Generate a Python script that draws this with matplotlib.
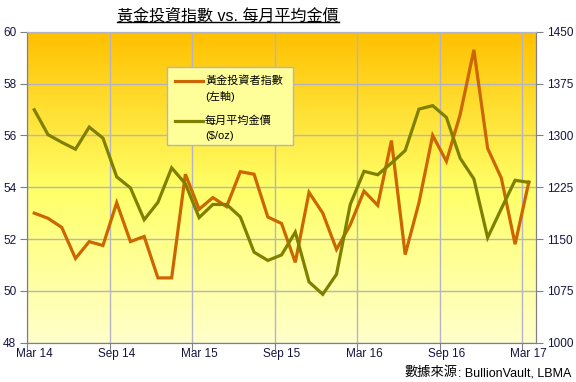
import numpy as np
import matplotlib.pyplot as plt
from matplotlib.colors import LinearSegmentedColormap
from matplotlib.lines import Line2D
from matplotlib.patches import Rectangle

# monthly data, Mar 2014 - Mar 2017
gold_index = [53.0, 52.8, 52.45, 51.25, 51.9, 51.75, 53.4, 51.9, 52.1,
              50.5, 50.5, 54.5, 53.15, 53.6, 53.25, 54.6, 54.5, 52.85, 52.6,
              51.1, 53.8, 53.0, 51.6, 52.55, 53.85, 53.3, 55.8, 51.4,
              53.4, 56.0, 55.0, 56.8, 59.3, 55.5, 54.35, 51.8, 54.2]
gold_price = [1337, 1301, 1290, 1280, 1312, 1296, 1240, 1224, 1178,
              1203, 1253, 1230, 1181, 1200, 1200, 1182, 1131, 1119, 1127,
              1160, 1088, 1070, 1099, 1200, 1248, 1243, 1260, 1278,
              1338, 1343, 1326, 1267, 1237, 1152, 1194, 1235, 1232]
tick_labels = ['Mar 14', 'Sep 14', 'Mar 15', 'Sep 15', 'Mar 16', 'Sep 16', 'Mar 17']

W, H = 576, 382
fig = plt.figure(figsize=(W / 100, H / 100), dpi=100)
fig.patch.set_facecolor('white')


def fx(px):
    return px / W


def fy(py):
    return 1 - py / H


ax = fig.add_axes([fx(27.4), fy(342.7), fx(535.7) - fx(27.4), fy(31.7) - fy(342.7)])
ax2 = ax.twinx()

x = np.arange(len(gold_index))
ax.set_xlim(-0.5, len(x) - 0.5)
ax.set_ylim(48, 60)
ax2.set_ylim(1000, 1450)

# gradient background
cmap = LinearSegmentedColormap.from_list('bg', ['#FFFFCC', '#FFFF66', '#FFC000'])
grad = np.linspace(0, 1, 256).reshape(-1, 1)
ax.imshow(grad, cmap=cmap, aspect='auto', origin='lower',
          extent=(-0.5, len(x) - 0.5, 48, 60), zorder=0)

grid_c = '#b4b4c4'
# ticks sit between categories, labels sit on the category
ax.set_xticks(np.arange(0, len(x), 6) - 0.5)
ax.set_xticklabels([])
ax.set_xticks(np.arange(0, len(x), 6), minor=True)
ax.set_xticklabels(tick_labels, minor=True)
ax.tick_params(axis='x', which='minor', length=0, pad=4)
ax.set_yticks(np.arange(48, 61, 2))
ax2.set_yticks(np.arange(1000, 1451, 75))
ax.grid(True, which='major', color=grid_c, linewidth=1, zorder=1)
ax.set_axisbelow(False)

ax.plot(x, gold_index, color='#CC6600', linewidth=2.3, zorder=3, solid_joinstyle='miter')
ax2.plot(x, gold_price, color='#808000', linewidth=2.3, zorder=3, solid_joinstyle='miter')

tick_c = '#141440'
for a in (ax, ax2):
    for s in a.spines.values():
        s.set_color('#808080')
    a.spines['top'].set_color(grid_c)
    a.tick_params(which='both', colors='#808080', labelcolor=tick_c, labelsize=8.5)
    a.tick_params(which='major', length=5)
    for lab in (a.get_xticklabels(minor=True) + a.get_yticklabels()):
        lab.set_family('Liberation Sans')
ax.tick_params(axis='y', pad=3)
ax2.tick_params(axis='y', pad=3)

fam = ['Liberation Sans', 'Noto Sans CJK TC']

# title with underline
title = fig.text(fx(228), fy(15.5), '黃金投資指數 vs. 每月平均金價', ha='center', va='center',
                 fontsize=11.5, family=fam, color='black')

# legend box
fig.add_artist(Rectangle((fx(166.7), fy(145)), fx(293.3) - fx(166.7), fy(66.7) - fy(145),
                         transform=fig.transFigure, facecolor='#FFFF99',
                         edgecolor='#b4b4c4', linewidth=1, zorder=5))
entries = [('#CC6600', '黃金投資者指數', '(左軸)', 80.5),
           ('#808000', '每月平均金價', '($/oz)', 120.5)]
for col, l1, l2, yy in entries:
    fig.add_artist(Line2D([fx(175), fx(202.5)], [fy(yy), fy(yy)], transform=fig.transFigure,
                          color=col, linewidth=2.3, zorder=6))
    fig.text(fx(205), fy(yy), l1, ha='left', va='center', fontsize=8, family=fam, zorder=6)
    fig.text(fx(205), fy(yy + 15.5), l2, ha='left', va='center', fontsize=8, family=fam, zorder=6)

# source note
src = fig.text(fx(571), fy(373), ': BullionVault, LBMA', ha='right', va='center',
               fontsize=9, family='Liberation Sans', color='black')

fig.canvas.draw()
r = fig.canvas.get_renderer()
bb = title.get_window_extent(r)
fig.add_artist(Line2D([bb.x0 / W, bb.x1 / W], [fy(21.8), fy(21.8)], transform=fig.transFigure,
                      color='black', linewidth=1))
sb = src.get_window_extent(r)
fig.text(sb.x0 / W, fy(373), '數據來源', ha='right', va='center', fontsize=9.5,
         family=fam, style='italic', color='black')

fig.savefig('out.png', dpi=100)
